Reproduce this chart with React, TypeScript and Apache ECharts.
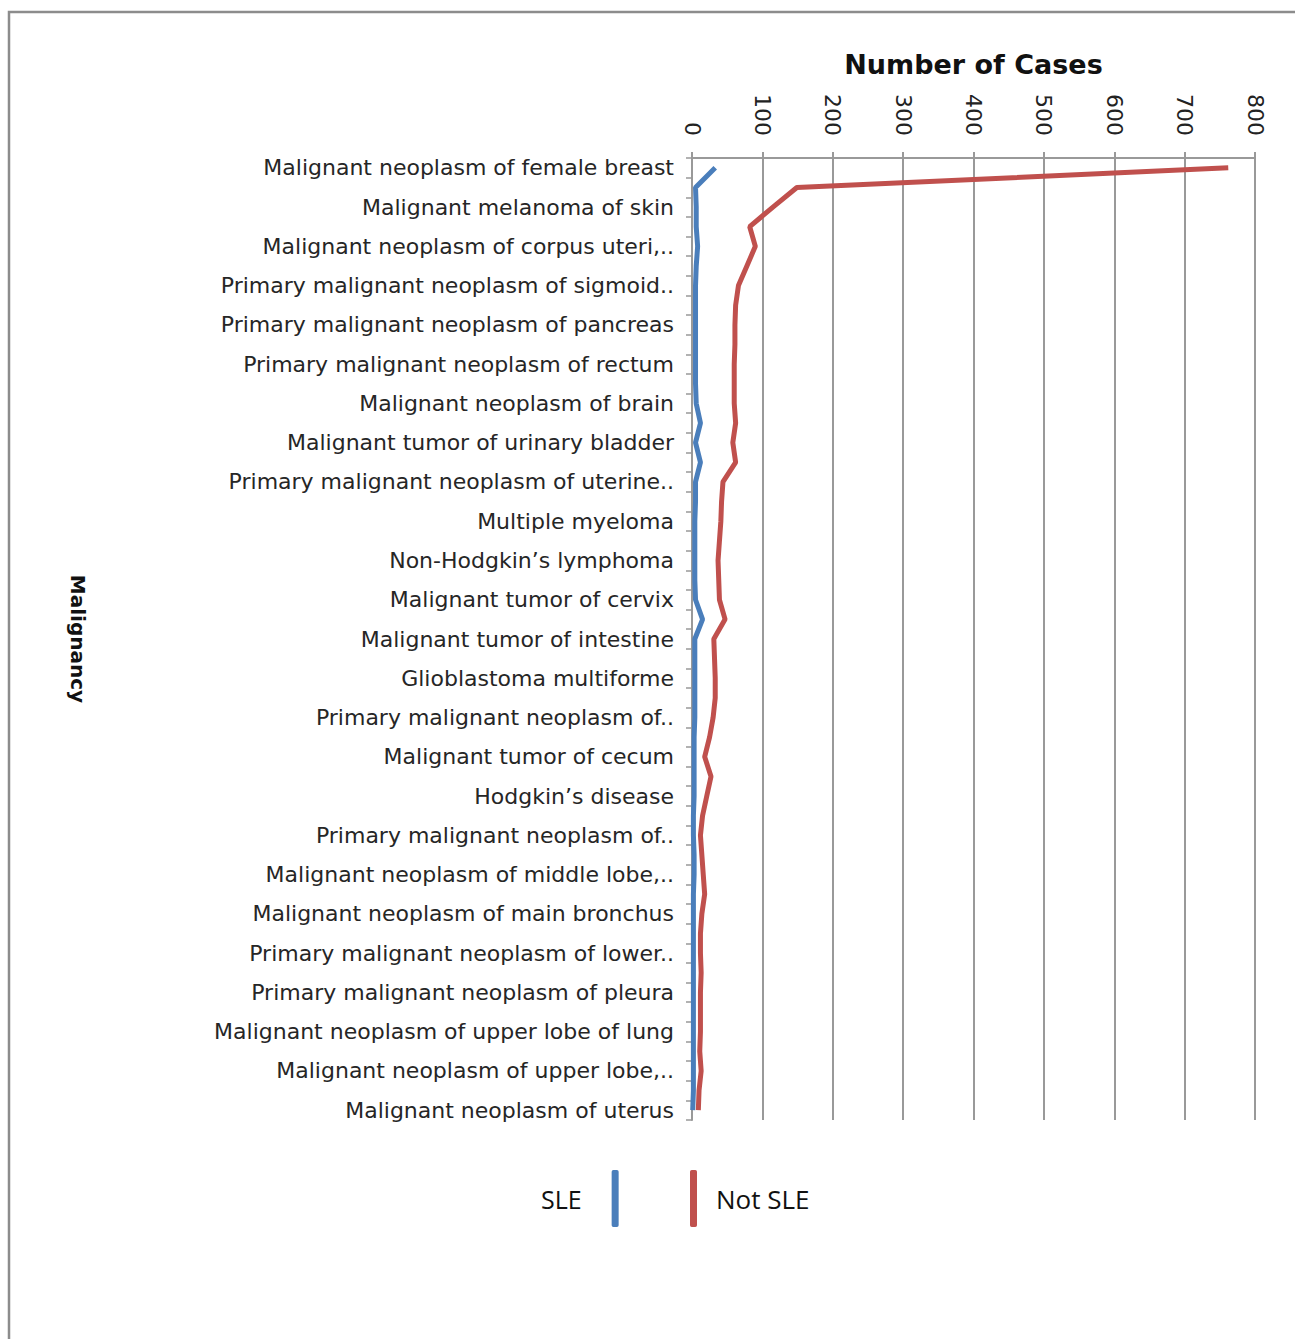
import React, { useEffect, useRef } from "react";
import * as echarts from "echarts";

// Labelled categories (every other category of the axis carries a label)
const labelledCategories: string[] = [
  "Malignant neoplasm of female breast",
  "Malignant melanoma of skin",
  "Malignant neoplasm of corpus uteri,..",
  "Primary malignant neoplasm of sigmoid..",
  "Primary malignant neoplasm of pancreas",
  "Primary malignant neoplasm of rectum",
  "Malignant neoplasm of brain",
  "Malignant tumor of urinary bladder",
  "Primary malignant neoplasm of uterine..",
  "Multiple myeloma",
  "Non-Hodgkin\u2019s lymphoma",
  "Malignant tumor of cervix",
  "Malignant tumor of intestine",
  "Glioblastoma multiforme",
  "Primary malignant neoplasm of..",
  "Malignant tumor of cecum",
  "Hodgkin\u2019s disease",
  "Primary malignant neoplasm of..",
  "Malignant neoplasm of middle lobe,..",
  "Malignant neoplasm of main bronchus",
  "Primary malignant neoplasm of lower..",
  "Primary malignant neoplasm of pleura",
  "Malignant neoplasm of upper lobe of lung",
  "Malignant neoplasm of upper lobe,..",
  "Malignant neoplasm of uterus",
];

// 49 categories: labelled ones at even positions, unlabelled ones between
const categories: string[] = [];
labelledCategories.forEach((c, i) => {
  categories.push(c);
  if (i < labelledCategories.length - 1) categories.push("");
});

const sleValues: number[] = [
  33, 5, 6, 6, 8, 6, 5, 5, 5, 5, 5, 5, 6, 12, 5, 12, 5, 5, 4, 4, 4, 4, 5, 15, 4,
  4, 4, 4, 4, 3, 3, 3, 3, 2, 2, 3, 3, 2, 2, 2, 2, 2, 2, 2, 2, 2, 2, 2, 1,
];

const notSleValues: number[] = [
  762, 149, 115, 82, 90, 78, 66, 62, 61, 61, 60, 60, 60, 62, 58, 62, 44, 42, 41,
  39, 37, 38, 39, 47, 31, 32, 33, 33, 30, 25, 18, 27, 21, 15, 12, 14, 16, 18, 14,
  12, 12, 13, 12, 12, 12, 11, 13, 10, 9,
];

const xTicks = { min: 0, max: 800, interval: 100 };

export default function App() {
  const ref = useRef<HTMLDivElement>(null);

  useEffect(() => {
    document.body.style.margin = "0";
    document.body.style.overflow = "hidden";
    const chart = echarts.init(ref.current!, null, { renderer: "svg" });
    const gray = "#999999";
    chart.setOption({
      animation: false,
      backgroundColor: "#ffffff",
      grid: { left: 692, top: 158, width: 563, height: 962, containLabel: false },
      xAxis: {
        type: "value",
        position: "top",
        min: xTicks.min,
        max: xTicks.max,
        interval: xTicks.interval,
        name: "Number of Cases",
        nameLocation: "middle",
        nameGap: 80,
        nameTextStyle: {
          fontFamily: "DejaVu Sans",
          fontWeight: "bold",
          fontSize: 27,
          color: "#111111",
        },
        axisLine: { show: true, lineStyle: { color: gray, width: 2 } },
        axisTick: { show: true, length: 6, lineStyle: { color: gray, width: 2 } },
        splitLine: { show: true, lineStyle: { color: gray, width: 2 } },
        axisLabel: {
          rotate: 90,
          margin: 22,
          fontFamily: "DejaVu Sans",
          fontSize: 22,
          color: "#222222",
        },
      },
      yAxis: {
        type: "category",
        inverse: true,
        data: categories,
        boundaryGap: true,
        name: "Malignancy",
        nameLocation: "middle",
        nameRotate: -90,
        nameGap: 604,
        nameTextStyle: {
          fontFamily: "DejaVu Sans",
          fontWeight: "bold",
          fontSize: 20,
          color: "#111111",
        },
        axisLine: { show: true, lineStyle: { color: gray, width: 2 } },
        axisTick: { show: true, interval: 0, length: 6, lineStyle: { color: gray, width: 1.5 } },
        splitLine: { show: false },
        axisLabel: {
          interval: 1,
          margin: 18,
          fontFamily: "DejaVu Sans",
          fontSize: 22,
          color: "#262626",
        },
      },
      legend: [
        {
          data: ["SLE"],
          align: "right",
          left: 536,
          top: 1165,
          icon: "roundRect",
          itemWidth: 7,
          itemHeight: 57,
          textStyle: {
            fontFamily: "Open Sans",
            fontSize: 25,
            color: "#111111",
            padding: [0, 25, 0, 0],
          },
        },
        {
          data: ["Not SLE"],
          align: "left",
          left: 685,
          top: 1165,
          icon: "roundRect",
          itemWidth: 7,
          itemHeight: 57,
          textStyle: {
            fontFamily: "Open Sans",
            fontSize: 26,
            color: "#111111",
            padding: [0, 0, 0, 14],
          },
        },
      ],
      graphic: [
        {
          type: "rect",
          shape: { x: 9, y: 12, width: 1320, height: 1360 },
          style: { fill: "none", stroke: "#8c8c8c", lineWidth: 2.5 },
          silent: true,
        },
      ],
      series: [
        {
          name: "SLE",
          type: "line",
          data: sleValues,
          symbol: "none",
          showSymbol: false,
          lineStyle: { color: "#4A7EBB", width: 5 },
          itemStyle: { color: "#4A7EBB" },
        },
        {
          name: "Not SLE",
          type: "line",
          data: notSleValues,
          symbol: "none",
          showSymbol: false,
          lineStyle: { color: "#C0504D", width: 5 },
          itemStyle: { color: "#C0504D" },
        },
      ],
    });
    return () => chart.dispose();
  }, []);

  return <div ref={ref} style={{ width: 1295, height: 1339 }} />;
}
